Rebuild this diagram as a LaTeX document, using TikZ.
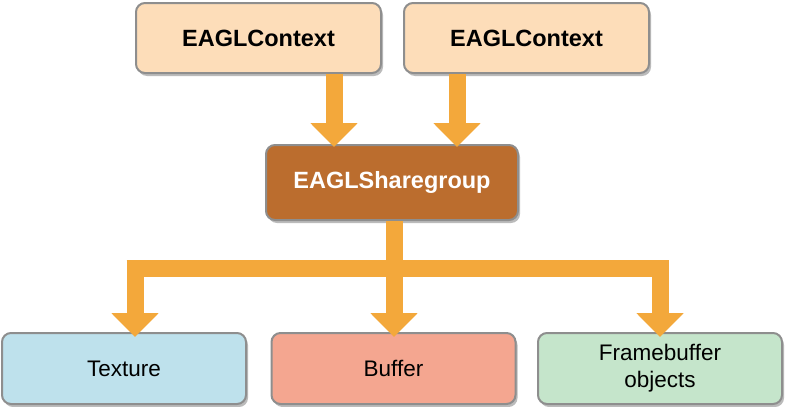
\documentclass[tikz,border=0pt]{standalone}
\usepackage{fontspec}
\setmainfont{Liberation Sans}
\usetikzlibrary{arrows.meta,shadows}
\definecolor{peach}{HTML}{FDDDB9}
\definecolor{brownbox}{HTML}{BB6D2E}
\definecolor{flowc}{HTML}{F3A83B}
\definecolor{bluebox}{HTML}{BEE1EC}
\definecolor{salmonbox}{HTML}{F4A690}
\definecolor{greenbox}{HTML}{C5E5CB}
\definecolor{edgec}{HTML}{8E8E8E}
\tikzset{
  box/.style={draw=edgec, line width=2pt, rounded corners=9pt, align=center,
    font=\fontsize{22.5}{27}\selectfont,
    drop shadow={shadow xshift=2pt, shadow yshift=-3pt, fill=edgec, opacity=0.6}},
  ctxbox/.style={box, fill=peach, minimum width=245pt, minimum height=70pt,
    font=\fontsize{23.5}{28}\selectfont\bfseries},
  sharebox/.style={box, fill=brownbox, text=white, minimum width=252pt, minimum height=75pt,
    font=\fontsize{23.5}{28}\selectfont\bfseries},
  objbox/.style={box, minimum width=244pt, minimum height=71pt},
  flow/.style={draw=flowc, line width=17pt,
    -{Triangle[width=46pt,length=24pt,fill=flowc]}},
  bar/.style={draw=flowc, line width=17pt}
}
\begin{document}
\begin{tikzpicture}[x=1pt,y=-1pt]
\useasboundingbox[fill=white] (0,0) rectangle (785,407);
\node[ctxbox] (ctx1) at (258.5,38) {EAGLContext};
\node[ctxbox] (ctx2) at (526.5,38) {EAGLContext};
\node[sharebox] (share) at (392,182.5) {EAGLSharegroup};
\node[objbox, fill=bluebox] (tex) at (124,368.5) {Texture};
\node[objbox, fill=salmonbox] (buf) at (393.5,368.5) {Buffer};
\node[objbox, fill=greenbox] (fbo) at (660,368.5) {Framebuffer\\objects};
\coordinate (x1) at (334,0);
\coordinate (x2) at (457,0);
\coordinate (xt) at (135,0);
\coordinate (hb) at (0,268);
% top arrows
\draw[flow] (ctx1.south -| x1) -- ([yshift=-3pt]share.north -| x1);
\draw[flow] (ctx2.south -| x2) -- ([yshift=-3pt]share.north -| x2);
% distribution
\draw[bar, line cap=butt] ([xshift=-8.5pt]xt |- hb) -- ([xshift=8.5pt]fbo.north |- hb);
\draw[flow] ([xshift=2pt]share.south) -- ([xshift=2pt,yshift=-5pt]share.south |- buf.north);
\draw[flow] ([yshift=-8.5pt]xt |- hb) -- ([yshift=-5pt]xt |- tex.north);
\draw[flow] ([yshift=-8.5pt]fbo.north |- hb) -- ([yshift=-5pt]fbo.north);
\end{tikzpicture}
\end{document}
